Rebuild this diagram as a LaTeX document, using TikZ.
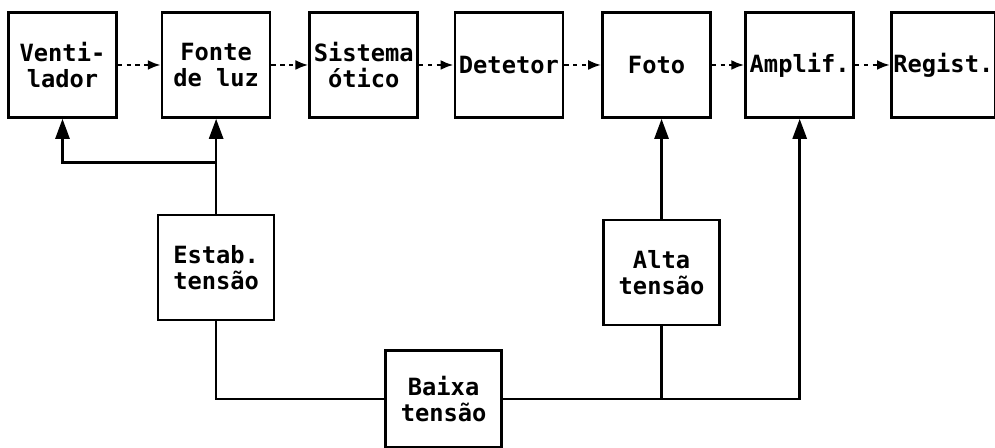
\documentclass[tikz,border=0pt]{standalone}
\usepackage{fontspec}
\setmainfont{DejaVu Sans Mono}
\usepackage{tikz}
\usetikzlibrary{arrows.meta, positioning, calc}
\tikzset{
    blockdiagram/.style={line width=1.5pt, font=\fontsize{13.5}{15}\selectfont\bfseries, node distance=0.8cm and 0.8cm},
    block/.style={draw, minimum width=2.16cm, minimum height=2.1cm, align=center, inner sep=1pt},
    supply/.style={block, minimum width=2.32cm},
    % dashed signal path along the top row
    signal/.style={dash pattern=on 2.5pt off 2.5pt, -{Latex[length=0.26cm, width=0.2cm]}},
    power/.style={-{Triangle[length=0.4cm, width=0.28cm]}},
    junction/.style={coordinate},
}

\begin{document}
\begin{tikzpicture}[blockdiagram]
        \useasboundingbox (0,0) rectangle (19.9,8.96);

        \node[block] (vent) at (1.25,7.66) {Venti-\\lador};
        \node[block, right=0.86cm of vent]   (fonte)   {Fonte\\de luz};
        \node[block, right=0.74cm of fonte]  (otico)   {Sistema\\ótico};
        \node[block, right=0.69cm of otico]  (detetor) {Detetor};
        \node[block, right=0.74cm of detetor] (foto)   {Foto};
        \node[block, right=0.65cm of foto]   (amplif)  {Amplif.};
        \node[block, minimum width=2.08cm, right=0.7cm of amplif] (regist)  {Regist.};

        \node[supply, below=1.9cm of fonte]  (estab) {Estab.\\tensão};
        \node[supply, below=2.0cm of foto, xshift=0.1cm] (alta) {Alta\\tensão};
        \node[supply, minimum height=1.94cm, below=4.61cm of $(otico.south)!0.55!(detetor.south)$] (baixa) {Baixa\\tensão};
        \coordinate[junction] (split1) at ($(fonte.south)!0.46!(estab.north)$);

        \draw[signal] (vent) -- (fonte);
        \draw[signal] (fonte) -- (otico);
        \draw[signal] (otico) -- (detetor);
        \draw[signal] (detetor) -- (foto);
        \draw[signal] (foto) -- (amplif);
        \draw[signal] (amplif) -- (regist);

        \draw[power] (estab) -- (fonte);
        \draw[power] (split1) -| (vent);
        \draw (estab) |- (baixa);
        \draw[power] (baixa) -| (amplif);
        \draw (alta) -- (alta |- baixa);
        \draw[power] (alta) -- (alta |- foto.south);
    \end{tikzpicture}
\end{document}
